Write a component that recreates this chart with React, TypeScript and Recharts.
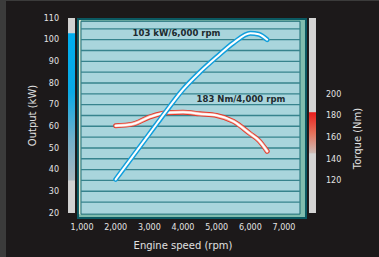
import { ComposedChart, Line, XAxis, YAxis, ReferenceArea, ReferenceLine, ReferenceDot, Label } from 'recharts';

// engine speed samples (rpm) and the two curves
const rpm = [2000, 2500, 3000, 3500, 4000, 4500, 5000, 5500, 6000, 6250, 6500];
const outputKw = [35.5, 46, 56.5, 67, 77, 85, 92, 98.5, 103, 102.5, 100];
const torqueNm = [170.5, 172, 178.5, 182.5, 183, 181.5, 180, 174.5, 163, 157, 147];

const rpmTicks = [1000, 2000, 3000, 4000, 5000, 6000, 7000];
const kwTicks = [20, 30, 40, 50, 60, 70, 80, 90, 100, 110];
const nmTicks = [120, 140, 160, 180, 200];
const gridKw = [25, 30, 35, 40, 45, 50, 55, 60, 65, 70, 75, 80, 85, 90, 95, 100, 105];

// ranges shown on the side gauges
const powerRange = [35, 103];
const torqueRange = [145, 183];

const data = rpm.map((r, i) => ({ rpm: r, power: outputKw[i], torque: torqueNm[i] }));

const X_DOMAIN: [number, number] = [851, 7683];
const KW_DOMAIN: [number, number] = [17.2, 110];
const NM_DOMAIN: [number, number] = [84.4, 270];

const FONT = 'DejaVu Sans';
const TICK = { fill: '#e4e4e4', fontSize: 8, fontFamily: FONT };

const fmt = (v: number) => v.toLocaleString('en-US');

const Note = (text: string) => (p: any) => (
    <text x={p.cx} y={p.cy} textAnchor="middle" fontFamily={FONT} fontWeight="bold" fontSize={8.5} fill="#1c2a2e">
        {text}
    </text>
);

export default function App() {
    return (
        <div style={{ position: 'absolute', left: 0, top: 0, width: 379, height: 257, background: '#1c191a', boxShadow: 'inset 6px 1px 0 #3b3b3b' }}>
            <ComposedChart width={379} height={257} data={data} margin={{ top: 18, right: 0, bottom: 0, left: 0 }}>
                <defs>
                    <linearGradient id="kwBar" x1="0" y1="0" x2="0" y2="1">
                        <stop offset="0" stopColor="#00adee" />
                        <stop offset="0.4" stopColor="#0aa9e4" />
                        <stop offset="0.72" stopColor="#72b0ca" />
                        <stop offset="1" stopColor="#a9b8c0" />
                    </linearGradient>
                    <linearGradient id="nmBar" x1="0" y1="0" x2="0" y2="1">
                        <stop offset="0" stopColor="#ea1c1c" />
                        <stop offset="0.5" stopColor="#e4705a" />
                        <stop offset="1" stopColor="#cdbdb8" />
                    </linearGradient>
                </defs>
                <XAxis
                    dataKey="rpm"
                    type="number"
                    domain={X_DOMAIN}
                    ticks={rpmTicks}
                    tickFormatter={fmt}
                    allowDataOverflow
                    axisLine={false}
                    tickLine={false}
                    tickSize={3}
                    tickMargin={2}
                    height={38}
                    tick={TICK}
                >
                    <Label
                        content={(p: any) => (
                            <text x={p.viewBox.x + p.viewBox.width / 2 - 9} y={p.viewBox.y + 29.7} textAnchor="middle" fontFamily={FONT} fontSize={10} fill="#e0e0e0">
                                Engine speed (rpm)
                            </text>
                        )}
                    />
                </XAxis>
                <YAxis
                    yAxisId="kw"
                    domain={KW_DOMAIN}
                    ticks={kwTicks}
                    allowDataOverflow
                    axisLine={false}
                    tickLine={false}
                    tickSize={6}
                    tickMargin={12}
                    width={77}
                    tick={TICK}
                >
                    <Label
                        content={(p: any) => {
                            const x = p.viewBox.x + 36;
                            const y = p.viewBox.y + p.viewBox.height / 2 - 3;
                            return (
                                <text x={x} y={y} transform={`rotate(-90, ${x}, ${y})`} textAnchor="middle" fontFamily={FONT} fontSize={10} fill="#e0e0e0">
                                    Output (kW)
                                </text>
                            );
                        }}
                    />
                </YAxis>
                <YAxis
                    yAxisId="nm"
                    orientation="right"
                    domain={NM_DOMAIN}
                    ticks={nmTicks}
                    allowDataOverflow
                    axisLine={false}
                    tickLine={false}
                    tickSize={6}
                    tickMargin={13}
                    width={72}
                    tick={TICK}
                >
                    <Label
                        content={(p: any) => {
                            const x = p.viewBox.x + 53.5;
                            const y = p.viewBox.y + p.viewBox.height / 2 + 20;
                            return (
                                <text x={x} y={y} transform={`rotate(-90, ${x}, ${y})`} textAnchor="middle" fontFamily={FONT} fontSize={10} fill="#e0e0e0">
                                    Torque (Nm)
                                </text>
                            );
                        }}
                    />
                </YAxis>

                {/* plot frame */}
                <ReferenceArea yAxisId="kw" x1={X_DOMAIN[0] + 30} x2={X_DOMAIN[1] - 30} y1={KW_DOMAIN[0] + 0.5} y2={KW_DOMAIN[1] - 0.5} fill="#80bdae" fillOpacity={1} stroke="#0b5962" strokeWidth={2} ifOverflow="visible" />
                <ReferenceArea yAxisId="kw" x1={909} x2={969} y1={19.4} y2={109} fill="#e2ead2" fillOpacity={1} ifOverflow="visible" />
                <ReferenceArea yAxisId="kw" x1={969} x2={7475} y1={19.45} y2={108.5} fill="#a9d5dc" fillOpacity={1} stroke="#1b6b74" strokeWidth={1} ifOverflow="visible" />
                {gridKw.map((v) => (
                    <ReferenceLine key={v} yAxisId="kw" segment={[{ x: 969, y: v }, { x: 7475, y: v }]} stroke="#37838d" strokeWidth={1.35} ifOverflow="visible" />
                ))}

                {/* side gauges */}
                <ReferenceArea yAxisId="kw" x1={584} x2={792} y1={20} y2={110} fill="#d2d2d2" fillOpacity={1} ifOverflow="visible" />
                <ReferenceArea yAxisId="kw" x1={584} x2={792} y1={powerRange[0]} y2={powerRange[1]} fill="url(#kwBar)" fillOpacity={1} ifOverflow="visible" />
                <ReferenceArea yAxisId="kw" x1={7742} x2={7950} y1={20} y2={110} fill="#d4d4d4" fillOpacity={1} ifOverflow="visible" />
                <ReferenceArea yAxisId="nm" x1={7742} x2={7950} y1={torqueRange[0]} y2={torqueRange[1]} fill="url(#nmBar)" fillOpacity={1} ifOverflow="visible" />

                <Line yAxisId="nm" type="monotone" dataKey="torque" stroke="#e5392a" strokeWidth={5} strokeLinecap="round" dot={false} activeDot={false} isAnimationActive={false} />
                <Line yAxisId="nm" type="monotone" dataKey="torque" stroke="#f7b4a9" strokeWidth={3.2} strokeLinecap="round" dot={false} activeDot={false} isAnimationActive={false} />
                <Line yAxisId="nm" type="monotone" dataKey="torque" stroke="#ffffff" strokeWidth={1.8} strokeLinecap="round" dot={false} activeDot={false} isAnimationActive={false} />
                <Line yAxisId="kw" type="monotone" dataKey="power" stroke="#129fdc" strokeWidth={5} strokeLinecap="round" dot={false} activeDot={false} isAnimationActive={false} />
                <Line yAxisId="kw" type="monotone" dataKey="power" stroke="#ffffff" strokeWidth={2} strokeLinecap="round" dot={false} activeDot={false} isAnimationActive={false} />

                <ReferenceDot yAxisId="kw" x={3807} y={101.5} r={0} shape={Note('103 kW/6,000 rpm')} />
                <ReferenceDot yAxisId="kw" x={5722} y={71.4} r={0} shape={Note('183 Nm/4,000 rpm')} />
            </ComposedChart>
        </div>
    );
}
